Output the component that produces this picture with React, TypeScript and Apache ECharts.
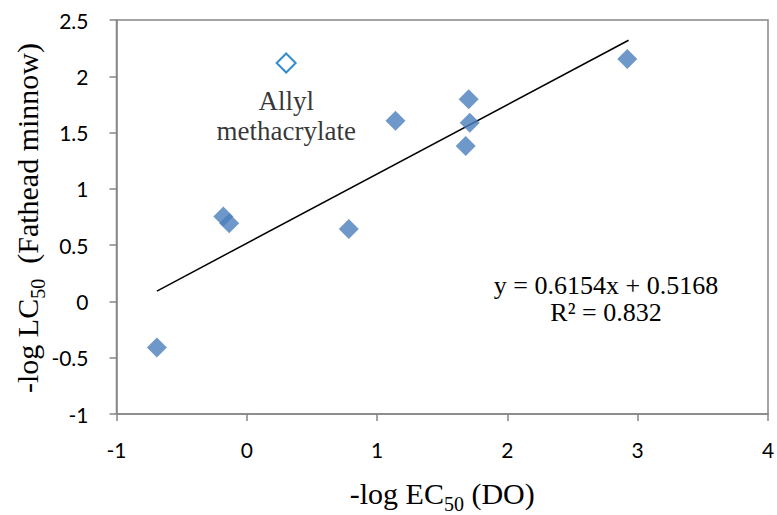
import React, { useEffect, useRef } from "react";
import * as echarts from "echarts";

const filledPoints: [number, number][] = [
  [-0.69, -0.41],
  [-0.18, 0.755],
  [-0.135, 0.694],
  [0.783, 0.644],
  [1.141, 1.606],
  [1.703, 1.796],
  [1.711, 1.588],
  [1.68, 1.381],
  [2.92, 2.154],
];
const outlierPoint: [number, number][] = [[0.302, 2.118]];
const outlierLabel = ["Allyl", "methacrylate"];
const trendLine: [number, number][] = [
  [-0.69, 0.092],
  [2.93, 2.32],
];
const equationLines = ["y = 0.6154x + 0.5168", "R² = 0.832"];
const xTicks = { min: -1, max: 4, interval: 1 };
const yTicks = { min: -1, max: 2.5, interval: 0.5 };
const yTitle = "{a|-log LC}{s|50}{a|  (Fathead minnow)}";
const xTitle = "{a|-log EC}{s|50}{a| (DO)}";

const serif = "Liberation Serif";
const sans = "Lato";
const axisGray = "#868686";

export default function App() {
  const ref = useRef<HTMLDivElement>(null);
  useEffect(() => {
    if (!ref.current) return;
    const chart = echarts.init(ref.current, undefined, { renderer: "svg" });
    const titleRich = {
      a: { fontFamily: serif, fontSize: 30, color: "#000", fill: "#000" },
      s: { fontFamily: serif, fontSize: 20, color: "#000", fill: "#000", padding: [22, 0, 0, 0] },
    };
    chart.setOption({
      animation: false,
      backgroundColor: "#ffffff",
      grid: {
        left: 116.5,
        right: 9,
        top: 20,
        bottom: 101,
        show: true,
        borderColor: axisGray,
        borderWidth: 1.5,
        containLabel: false,
        outerBoundsMode: "none",
      },
      xAxis: {
        type: "value",
        min: xTicks.min,
        max: xTicks.max,
        interval: xTicks.interval,
        splitLine: { show: false },
        axisLine: { onZero: false, lineStyle: { color: axisGray, width: 1.5 } },
        axisTick: { show: true, inside: false, length: 7, lineStyle: { color: axisGray, width: 1.5 } },
        axisLabel: { margin: 25, color: "#000", fontFamily: sans, fontSize: 21 },
        name: xTitle,
        nameLocation: "middle",
        nameGap: 58,
        nameTextStyle: { rich: titleRich },
      },
      yAxis: {
        type: "value",
        min: yTicks.min,
        max: yTicks.max,
        interval: yTicks.interval,
        splitLine: { show: false },
        axisLine: { onZero: false, lineStyle: { color: axisGray, width: 1.5 } },
        axisTick: { show: true, inside: false, length: 7, lineStyle: { color: axisGray, width: 1.5 } },
        axisLabel: { margin: 28, color: "#000", fontFamily: sans, fontSize: 21 },
      },
      series: [
        {
          type: "line",
          data: trendLine,
          showSymbol: false,
          symbol: "none",
          lineStyle: { color: "#000", width: 1.5 },
          z: 1,
        },
        {
          type: "scatter",
          data: filledPoints,
          symbol: "diamond",
          symbolSize: 20,
          itemStyle: { color: "#4A7EBB" },
          z: 3,
        },
        {
          type: "scatter",
          data: outlierPoint,
          symbol: "diamond",
          symbolSize: 19,
          itemStyle: { color: "#ffffff", borderColor: "#0070C0", borderWidth: 2 },
          label: {
            show: true,
            position: "bottom",
            distance: 12,
            formatter: outlierLabel.join("\n"),
            fontFamily: serif,
            fontSize: 27,
            lineHeight: 30,
            color: "#000",
            align: "center",
          },
          z: 3,
        },
      ],
      graphic: [
        {
          type: "text",
          x: 27,
          y: 218,
          rotation: Math.PI / 2,
          style: {
            text: yTitle,
            rich: titleRich,
            fill: "#000",
            align: "center",
            verticalAlign: "middle",
          },
        },
        {
          type: "text",
          x: 606,
          y: 272,
          style: {
            text: equationLines.join("\n"),
            fontFamily: serif,
            fontSize: 26,
            lineHeight: 27,
            fill: "#000",
            align: "center",
            verticalAlign: "top",
          },
        },
      ],
    });
    return () => chart.dispose();
  }, []);
  return <div ref={ref} style={{ width: 777, height: 515, position: "absolute", left: 0, top: 0 }} />;
}
